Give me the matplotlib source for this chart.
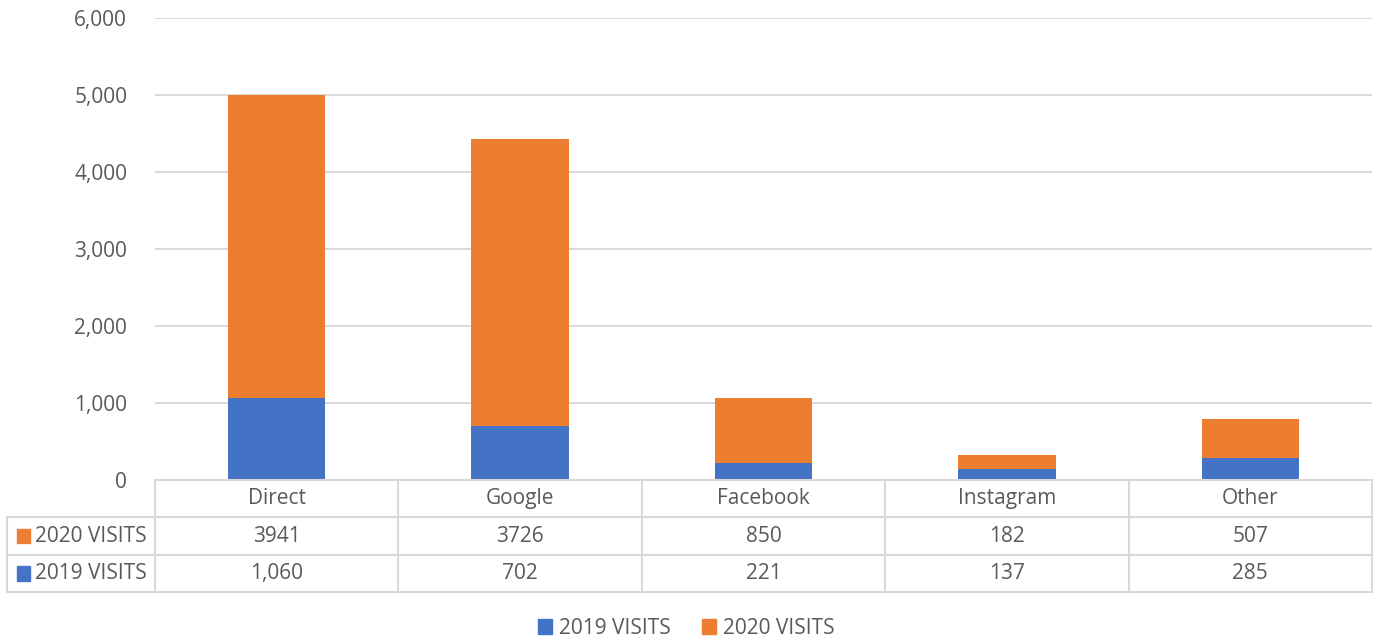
import matplotlib.pyplot as plt
import matplotlib.ticker as ticker
from matplotlib.patches import Rectangle

categorias = ['Direct', 'Google', 'Facebook', 'Instagram', 'Other']
visitas_2019 = [1060, 702, 221, 137, 285]
visitas_2020 = [3941, 3726, 850, 182, 507]
rotulos_2019 = ['1,060', '702', '221', '137', '285']
rotulos_2020 = ['3941', '3726', '850', '182', '507']

AZUL = '#4472C4'
LARANJA = '#ED7D31'
GRADE = '#D9D9D9'
TEXTO = '#595959'
FS = 15

plt.rcParams['font.family'] = ['Open Sans', 'DejaVu Sans']

W, H = 1376, 642
fig = plt.figure(figsize=(W / 100, H / 100), dpi=100)

def px(x0, y0, x1, y1):
    return [x0 / W, 1 - y1 / H, (x1 - x0) / W, (y1 - y0) / H]

ax = fig.add_axes(px(155, 18, 1372, 480))
x = list(range(len(categorias)))
ax.bar(x, visitas_2019, width=0.4, color=AZUL, zorder=3)
ax.bar(x, visitas_2020, width=0.4, bottom=visitas_2019, color=LARANJA, zorder=3)
ax.set_xlim(-0.5, 4.5)
ax.set_ylim(0, 6000)
ax.set_yticks(range(0, 6001, 1000))
ax.yaxis.set_major_formatter(ticker.FuncFormatter(lambda v, p: format(int(v), ',')))
ax.set_xticks([])
ax.tick_params(axis='y', length=0, pad=20, labelsize=FS, labelcolor=TEXTO)
ax.grid(axis='y', color=GRADE, linewidth=1.4, zorder=0)
for s in ax.spines.values():
    s.set_visible(False)

# tabela de dados
tax = fig.add_axes(px(155, 480, 1372, 592))
tax.set_xlim(-0.5, 4.5)
tax.set_ylim(3, 0)
tax.axis('off')
esq = -0.5 - (155 - 7) / ((1372 - 155) / 5)
kw = dict(color=GRADE, linewidth=1.5, clip_on=False)
tax.plot([-0.5, 4.5], [0, 0], **kw)
for yy in [1, 2, 3]:
    tax.plot([esq, 4.5], [yy, yy], **kw)
for xx in [-0.5, 0.5, 1.5, 2.5, 3.5, 4.5]:
    tax.plot([xx, xx], [0, 3], **kw)
tax.plot([esq, esq], [1, 3], **kw)

for i, c in enumerate(categorias):
    tax.text(i, 0.5, c, ha='center', va='center', fontsize=FS, color=TEXTO)
    tax.text(i, 1.5, rotulos_2020[i], ha='center', va='center', fontsize=FS, color=TEXTO)
    tax.text(i, 2.5, rotulos_2019[i], ha='center', va='center', fontsize=FS, color=TEXTO)

for yy, nome, cor in [(1.5, '2020 VISITS', LARANJA), (2.5, '2019 VISITS', AZUL)]:
    tax.add_patch(Rectangle((esq + 0.04, yy - 0.2), 0.055, 0.4, color=cor, clip_on=False,
                            transform=tax.transData))
    tax.text(esq + 0.115, yy, nome, ha='left', va='center', fontsize=FS, color=TEXTO)

# legenda
h1 = Rectangle((0, 0), 1, 1, color=AZUL)
h2 = Rectangle((0, 0), 1, 1, color=LARANJA)
leg = fig.legend([h1, h2], ['2019 VISITS', '2020 VISITS'], loc='center',
                 bbox_to_anchor=(686 / W, 1 - 628 / H), ncol=2, frameon=False,
                 fontsize=FS, handlelength=0.7, handleheight=0.7, handletextpad=0.3,
                 columnspacing=1.5)
for t in leg.get_texts():
    t.set_color(TEXTO)

fig.savefig('out.png', dpi=100)
